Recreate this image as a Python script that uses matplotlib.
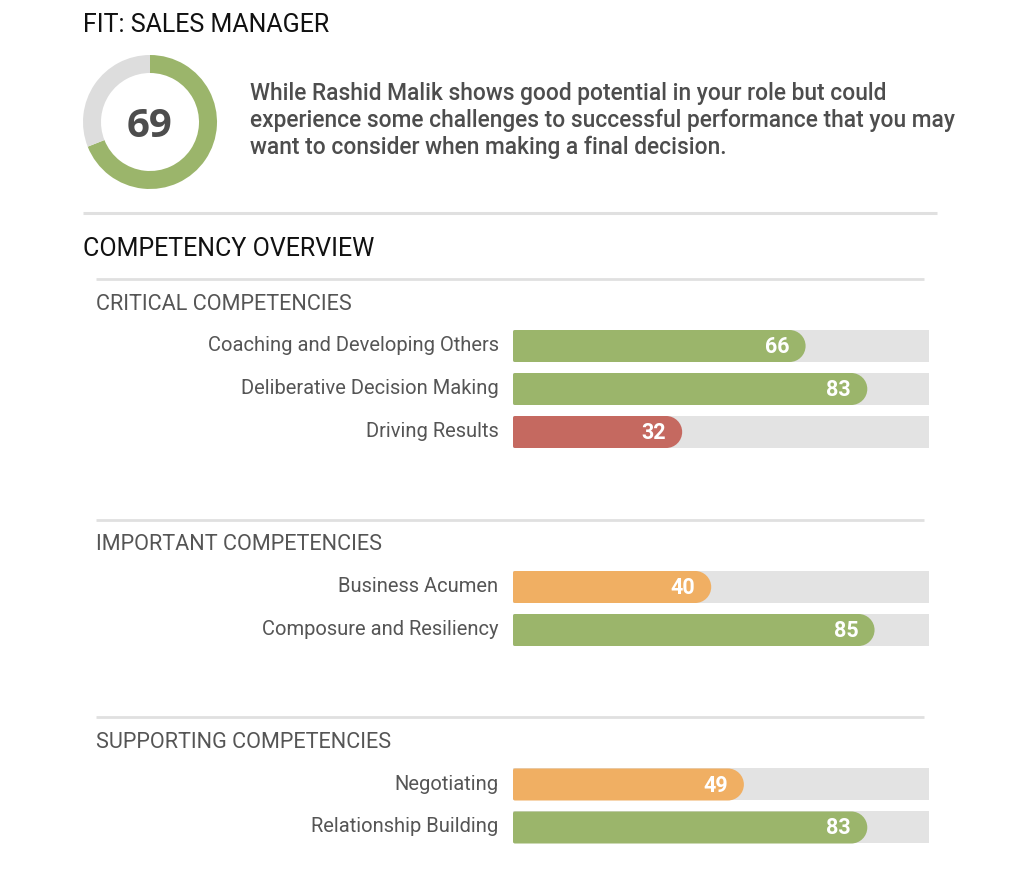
import matplotlib
matplotlib.use('Agg')
import matplotlib.pyplot as plt
from matplotlib.path import Path
from matplotlib.patches import PathPatch, Rectangle

plt.rcParams['font.family'] = ['Roboto', 'DejaVu Sans']

# Data
fit_score = 69
fit_rest = 31
fit_title = "FIT: SALES MANAGER"
fit_text = [
    "While Rashid Malik shows good potential in your role but could",
    "experience some challenges to successful performance that you may",
    "want to consider when making a final decision.",
]
overview_title = "COMPETENCY OVERVIEW"

group_names = ["CRITICAL COMPETENCIES", "IMPORTANT COMPETENCIES", "SUPPORTING COMPETENCIES"]
critical_labels = ["Coaching and Developing Others", "Deliberative Decision Making", "Driving Results"]
critical_values = [66, 83, 32]
important_labels = ["Business Acumen", "Composure and Resiliency"]
important_values = [40, 85]
supporting_labels = ["Negotiating", "Relationship Building"]
supporting_values = [49, 83]

GREEN = '#9BB56B'
RED = '#C56960'
ORANGE = '#F0AF63'
TRACK = '#E3E3E3'
RULE = '#E0E0E0'
DARK = '#4D4D4D'
LABEL = '#555555'

# layout in pixels
BAR_LEFT = 513
BAR_RIGHT = 929
BAR_H = 32
BAR_BASE = 53   # bars start with a stub, so 0 is not at the left edge
PX_PER_POINT = 3.63


def bar_color(v):
    if v < 35:
        return RED
    if v < 60:
        return ORANGE
    return GREEN


def rounded_bar(ax, x0, x1, top, h, color):
    r = h / 2
    k = 0.5523 * r
    c = 2
    verts = [(x0 + c, top), (x1 - r, top),
             (x1 - r + k, top), (x1, top + r - k), (x1, top + r),
             (x1, top + r + k), (x1 - r + k, top + h), (x1 - r, top + h),
             (x0 + c, top + h),
             (x0, top + h), (x0, top + h - c),
             (x0, top + c),
             (x0, top), (x0 + c, top),
             (x0 + c, top)]
    codes = [Path.MOVETO, Path.LINETO,
             Path.CURVE4, Path.CURVE4, Path.CURVE4,
             Path.CURVE4, Path.CURVE4, Path.CURVE4,
             Path.LINETO,
             Path.CURVE3, Path.CURVE3,
             Path.LINETO,
             Path.CURVE3, Path.CURVE3,
             Path.CLOSEPOLY]
    ax.add_patch(PathPatch(Path(verts, codes), facecolor=color, edgecolor='none'))


def draw_group(ax, title, labels, values, rule_y):
    ax.plot([96, 924], [rule_y, rule_y], color=RULE, lw=2, solid_capstyle='butt')
    ax.text(96, rule_y + 25, title, fontsize=15.55, color=LABEL, va='center', ha='left')
    for i, (lab, v) in enumerate(zip(labels, values)):
        top = rule_y + 51 + i * 43
        ax.add_patch(Rectangle((BAR_LEFT, top), BAR_RIGHT - BAR_LEFT, BAR_H, facecolor=TRACK, edgecolor='none'))
        end = BAR_LEFT + BAR_BASE + v * PX_PER_POINT
        rounded_bar(ax, BAR_LEFT, end, top, BAR_H, bar_color(v))
        ax.text(498.5, top + 15.5, lab, fontsize=14.5, color=LABEL, va='center', ha='right')
        ax.text(end - 28.5, top + 17, str(v), fontsize=15.5, fontweight='bold', color='white', va='center', ha='center')


fig = plt.figure(figsize=(10.24, 8.96), dpi=100, facecolor='white')
ax = fig.add_axes([0, 0, 1, 1])
ax.set_xlim(0, 1024)
ax.set_ylim(896, 0)
ax.axis('off')

ax.text(83, 24.5, fit_title, fontsize=18, color='#111111', va='center', ha='left')
for i, line in enumerate(fit_text):
    ax.text(250, 93.5 + i * 27, line, fontsize=16.36, fontweight='medium', color=DARK, va='center', ha='left')

ax.plot([83, 937], [213, 213], color=RULE, lw=2.2, solid_capstyle='butt')
ax.text(83, 248.5, overview_title, fontsize=18, color='#111111', va='center', ha='left')

draw_group(ax, group_names[0], critical_labels, critical_values, 279)
draw_group(ax, group_names[1], important_labels, important_values, 520)
draw_group(ax, group_names[2], supporting_labels, supporting_values, 717.5)

# donut
cx, cy, r_out, r_in = 150, 122, 67, 49
ax_d = fig.add_axes([(cx - r_out) / 1024, 1 - (cy + r_out) / 896, 2 * r_out / 1024, 2 * r_out / 896])
ax_d.pie([fit_score, fit_rest], colors=[GREEN, '#DDDDDD'], startangle=90, counterclock=False,
         radius=1, wedgeprops={'width': 1 - r_in / r_out, 'linewidth': 0})
ax_d.set_xlim(-1, 1)
ax_d.set_ylim(-1, 1)
ax_d.text(0, -0.07, str(fit_score), fontsize=29, fontweight='bold', family='Open Sans', color=DARK, ha='center', va='center')

fig.savefig('out.png', dpi=100)
